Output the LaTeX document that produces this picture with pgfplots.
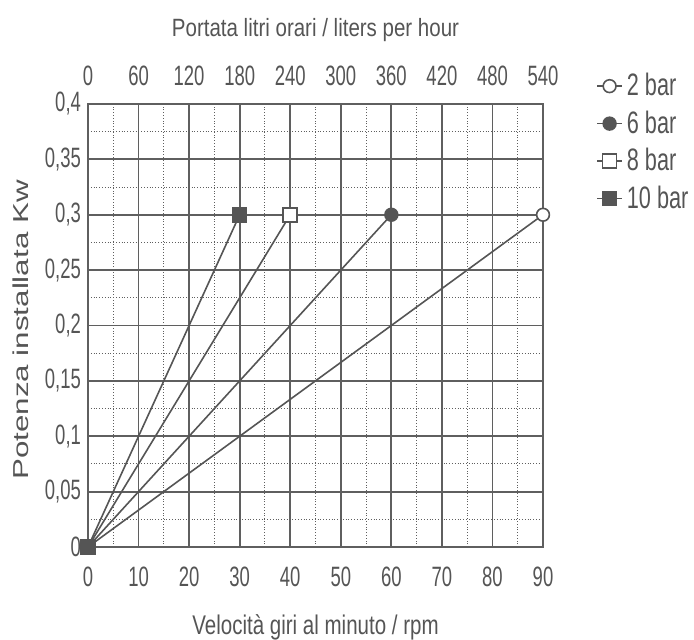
\documentclass[border=0pt]{standalone}
\usepackage{fontspec}
\setmainfont{Liberation Sans}[FakeStretch=0.82]
\newfontfamily\wide{Liberation Sans}[FakeStretch=1.45]
\newfontfamily\tickfont{Liberation Sans}[FakeStretch=0.66]
\newfontfamily\legfont{Liberation Sans}[FakeStretch=0.70]
\newfontfamily\labfont{Liberation Sans}[FakeStretch=0.76]
\usepackage{pgfplots}
\pgfplotsset{compat=1.18}
\definecolor{ink}{RGB}{85,85,85}
\definecolor{gridc}{RGB}{95,95,95}
\definecolor{linec}{RGB}{85,85,85}

\begin{document}
\begin{tikzpicture}
\useasboundingbox (0,0) rectangle (347pt,320pt);
\begin{axis}[
  at={(44pt,46.5pt)}, anchor=south west,
  scale only axis, width=227.5pt, height=221.5pt,
  xmin=0, xmax=90, ymin=0, ymax=0.4,
  xtick={0,10,...,90},
  ytick={0,0.05,0.1,0.15,0.2,0.25,0.3,0.35,0.4},
  yticklabels={0,{0,05},{0,1},{0,15},{0,2},{0,25},{0,3},{0,35},{0,4}},
  xticklabels={0,10,20,30,40,50,60,70,80,90},
  minor xtick={5,15,...,85},
  minor ytick={0.025,0.075,0.125,0.175,0.225,0.275,0.325,0.375},
  grid=both,
  major grid style={gridc, line width=0.9pt},
  minor grid style={gridc, densely dotted, line width=0.55pt},
  axis line style={gridc, line width=1.2pt},
  major tick length=0pt, minor tick length=0pt,
  tick label style={font=\tickfont\fontsize{14}{16}\selectfont, text=ink},
  xticklabel style={anchor=center, yshift=-15pt},
  yticklabel style={anchor=east, xshift=0pt},
  xlabel={Velocità giri al minuto / rpm},
  xlabel style={at={(rel axis cs:0.5,0)}, anchor=center, yshift=-40pt, font=\labfont\fontsize{13.5}{16}\selectfont, text=ink},
  legend style={at={(1.103,1.088)}, anchor=north west, draw=none, fill=none,
    font=\legfont\fontsize{15.5}{17}\selectfont, text=ink, row sep=2pt},
  legend cell align=left,
  legend image code/.code={\draw[mark repeat=2,mark phase=2] plot coordinates {(0cm,0cm)(0.22cm,0cm)(0.44cm,0cm)};},
  every axis plot/.append style={linec, line width=0.8pt},
]
\addplot[mark=*, mark size=3.2pt, mark options={fill=white, draw=linec}] coordinates {(0,0) (90,0.3)};
\addlegendentry{2 bar}
\addplot[mark=*, mark size=3.2pt, mark options={fill=linec, draw=linec}] coordinates {(0,0) (60,0.3)};
\addlegendentry{6 bar}
\addplot[mark=square*, mark size=3.5pt, mark options={fill=white, draw=linec}] coordinates {(0,0) (40,0.3)};
\addlegendentry{8 bar}
\addplot[mark=square*, mark size=3.5pt, mark options={fill=linec, draw=linec}] coordinates {(0,0) (30,0.3)};
\addlegendentry{10 bar}
\end{axis}
\begin{axis}[
  at={(44pt,46.5pt)}, anchor=south west,
  scale only axis, width=227.5pt, height=221.5pt,
  xmin=0, xmax=540, ymin=0, ymax=0.4,
  axis x line*=top, hide y axis,
  xtick={0,60,...,540},
  xticklabels={0,60,120,180,240,300,360,420,480,540},
  major tick length=0pt,
  axis line style={draw=none},
  tick label style={font=\tickfont\fontsize{14}{16}\selectfont, text=ink},
  xticklabel style={anchor=center, yshift=14pt},
  xlabel={Portata litri orari / liters per hour},
  xlabel style={at={(rel axis cs:0.5,1)}, anchor=center, yshift=37pt, font=\fontsize{12.5}{14}\selectfont, text=ink},
]
\end{axis}
\node[rotate=90, anchor=center, text=ink, font=\wide\fontsize{10.8}{13}\selectfont] at (10.2pt,155pt) {Potenza installata Kw};
\end{tikzpicture}
\end{document}
